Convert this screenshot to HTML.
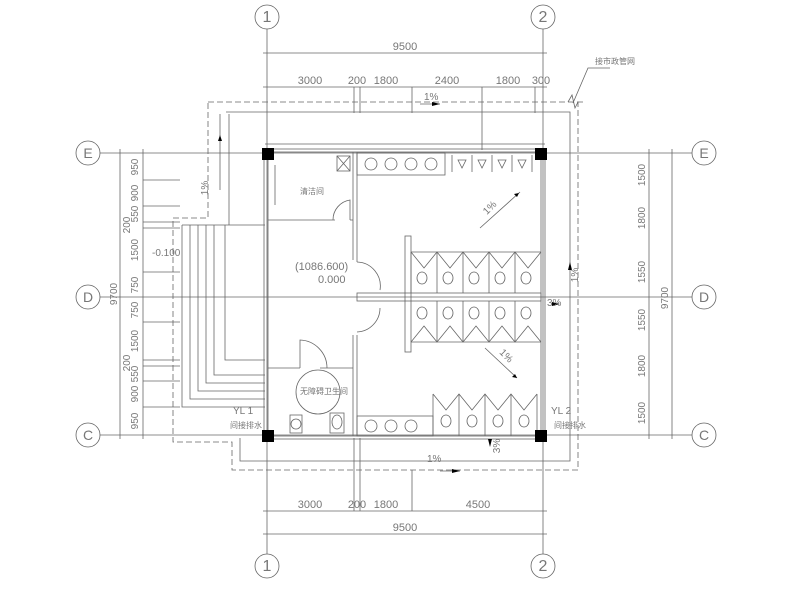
<!DOCTYPE html>
<html><head><meta charset="utf-8"><style>
body{margin:0;background:#fff}
svg{display:block}
text{font-family:"Liberation Sans","Noto Sans CJK SC",sans-serif;fill:#777}
</style></head><body>
<svg width="800" height="600" viewBox="0 0 800 600" xmlns="http://www.w3.org/2000/svg">
<g stroke="#666" stroke-width="0.8" fill="none">
<line x1="267" y1="29" x2="267" y2="554"/>
<line x1="543" y1="29" x2="543" y2="554"/>
<line x1="100" y1="153" x2="692" y2="153"/>
<line x1="100" y1="297" x2="692" y2="297"/>
<line x1="100" y1="435" x2="692" y2="435"/>
<circle cx="267" cy="17" r="12"/><circle cx="543" cy="17" r="12"/>
<circle cx="267" cy="566" r="12"/><circle cx="543" cy="566" r="12"/>
<circle cx="88" cy="153" r="12"/><circle cx="88" cy="297" r="12"/><circle cx="88" cy="435" r="12"/>
<circle cx="704" cy="153" r="12"/><circle cx="704" cy="297" r="12"/><circle cx="704" cy="435" r="12"/>
<line x1="263" y1="53" x2="547" y2="53"/>
<line x1="263" y1="87" x2="547" y2="87"/>
<line x1="354" y1="87" x2="354" y2="113"/><line x1="360" y1="87" x2="360" y2="113"/>
<line x1="412" y1="87" x2="412" y2="113"/><line x1="482" y1="87" x2="482" y2="150"/>
<line x1="535" y1="87" x2="535" y2="113"/>
<line x1="263" y1="511" x2="547" y2="511"/>
<line x1="263" y1="534" x2="547" y2="534"/>
<line x1="354" y1="438" x2="354" y2="511"/><line x1="360" y1="438" x2="360" y2="511"/>
<line x1="412" y1="470" x2="412" y2="511"/>
<line x1="649" y1="149" x2="649" y2="439"/>
<line x1="672" y1="149" x2="672" y2="439"/>
<line x1="120" y1="149" x2="120" y2="439"/>
<line x1="143" y1="149" x2="143" y2="439"/>
<line x1="143" y1="180" x2="180" y2="180"/><line x1="143" y1="206" x2="180" y2="206"/>
<line x1="143" y1="222" x2="180" y2="222"/><line x1="143" y1="228" x2="180" y2="228"/>
<line x1="143" y1="272" x2="180" y2="272"/><line x1="143" y1="322" x2="180" y2="322"/>
<line x1="143" y1="360" x2="180" y2="360"/><line x1="143" y1="366" x2="180" y2="366"/>
<line x1="143" y1="381" x2="180" y2="381"/><line x1="143" y1="407" x2="180" y2="407"/>
<path d="M208 102 H578 V470 H232 V442 H173 V218 H208 Z" stroke-dasharray="6,3"/>
<path d="M226 112 H570 V461 H240 V438"/>
<path d="M229 114 V225"/>
<path d="M182 225 H265 M182 225 V407 H265"/>
<path d="M190 225 V399 H265"/>
<path d="M198 225 V391 H265"/>
<path d="M206 225 V383 H265"/>
<path d="M214 225 V375 H265"/>
<path d="M225 225 V360 H265"/>
<rect x="264" y="149" width="281" height="290"/>
<rect x="268" y="152" width="273" height="284"/>
<line x1="265" y1="144" x2="545" y2="144"/>
<path d="M268 220 H335 M350 220 H353"/>
<path d="M353 152 V260 M357 152 V262 M353 335 V436 M357 335 V436"/>
<path d="M268 368 H300 M320 368 H353"/>
<line x1="275" y1="165" x2="275" y2="205"/>
<path d="M333 220 A20 20 0 0 1 350 200 V220"/>
<path d="M357 262 A24 24 0 0 1 380 290"/>
<path d="M357 332 A24 24 0 0 0 380 308"/>
<path d="M300 368 V340 A28 28 0 0 1 327 368"/>
<circle cx="318" cy="392" r="22"/>
<rect x="405" y="236" width="6" height="116"/>
<rect x="357" y="293" width="184" height="8"/>
<g>
<path d="M411 252 H541 M411 293 V252 M437 252 V293 M463 252 V293 M489 252 V293 M515 252 V293"/>
<path d="M411 252 L424 268 L437 252 L450 268 L463 252 L476 268 L489 252 L502 268 L515 252 L528 268 L541 252"/>
<path d="M411 342 H541 M437 301 V342 M463 301 V342 M489 301 V342 M515 301 V342"/>
<path d="M411 342 L424 326 L437 342 L450 326 L463 342 L476 326 L489 342 L502 326 L515 342 L528 326 L541 342"/>
<ellipse cx="422" cy="278" rx="5" ry="6"/><ellipse cx="448" cy="278" rx="5" ry="6"/><ellipse cx="474" cy="278" rx="5" ry="6"/><ellipse cx="500" cy="278" rx="5" ry="6"/><ellipse cx="526" cy="278" rx="5" ry="6"/>
<ellipse cx="422" cy="313" rx="5" ry="6"/><ellipse cx="448" cy="313" rx="5" ry="6"/><ellipse cx="474" cy="313" rx="5" ry="6"/><ellipse cx="500" cy="313" rx="5" ry="6"/><ellipse cx="526" cy="313" rx="5" ry="6"/>
<path d="M433 436 V394 M459 436 V394 M485 436 V394 M511 436 V394 M537 436 V394 M433 394 L446 410 L459 394 L472 410 L485 394 L498 410 L511 394 L524 410 L537 394"/>
<ellipse cx="446" cy="421" rx="5" ry="6"/><ellipse cx="472" cy="421" rx="5" ry="6"/><ellipse cx="498" cy="421" rx="5" ry="6"/><ellipse cx="524" cy="421" rx="5" ry="6"/>
</g>
<rect x="357" y="153" width="88" height="22"/>
<circle cx="371" cy="164" r="6"/><circle cx="391" cy="164" r="6"/><circle cx="411" cy="164" r="6"/><circle cx="431" cy="164" r="6"/>
<rect x="337" y="156" width="13" height="15"/><path d="M337 156 L350 171 M350 156 L337 171"/>
<path d="M452 155 V172 M472 155 V172 M492 155 V172 M512 155 V172 M532 155 V172"/>
<path d="M458 160 L462 168 L466 160 Z M478 160 L482 168 L486 160 Z M498 160 L502 168 L506 160 Z M518 160 L522 168 L526 160 Z"/>
<rect x="357" y="416" width="76" height="20"/>
<circle cx="371" cy="426" r="6"/><circle cx="391" cy="426" r="6"/><circle cx="411" cy="426" r="6"/>
<rect x="290" y="415" width="12" height="18"/><circle cx="296" cy="424" r="5"/>
<rect x="330" y="413" width="14" height="20"/><ellipse cx="337" cy="422" rx="5" ry="7"/>
<line x1="480" y1="228" x2="520" y2="192"/>
<line x1="485" y1="348" x2="517" y2="378"/>
<line x1="220" y1="114" x2="220" y2="190"/>
<line x1="420" y1="104" x2="440" y2="104"/>
<line x1="440" y1="471" x2="460" y2="471"/>
<path d="M573 103 L588 68 H610"/>
<path d="M568 102 L572 95 L575 108 L578 102 H583"/>
</g>
<g fill="#000">
<rect x="262" y="148" width="12" height="12"/><rect x="535" y="148" width="12" height="12"/>
<rect x="262" y="430" width="12" height="12"/><rect x="535" y="430" width="12" height="12"/>
<path d="M440 104 l-8 -2 v4z M460 471 l-8 -2 v4z M570 262 l-2 8 h4z M560 304 l-8 -2 v4z M519 193 l-5 1 l3 3z M517 378 l-5 -1 l3 -3z M220 135 l-2 6 h4z M490 447 l-2 -8 h4z"/>
</g>
<g font-size="11">
<text x="267" y="22" text-anchor="middle" font-size="16">1</text>
<text x="543" y="22" text-anchor="middle" font-size="16">2</text>
<text x="267" y="571" text-anchor="middle" font-size="16">1</text>
<text x="543" y="571" text-anchor="middle" font-size="16">2</text>
<text x="88" y="158" text-anchor="middle" font-size="14">E</text>
<text x="88" y="302" text-anchor="middle" font-size="14">D</text>
<text x="88" y="440" text-anchor="middle" font-size="14">C</text>
<text x="704" y="158" text-anchor="middle" font-size="14">E</text>
<text x="704" y="302" text-anchor="middle" font-size="14">D</text>
<text x="704" y="440" text-anchor="middle" font-size="14">C</text>
<text x="405" y="50" text-anchor="middle">9500</text>
<text x="310" y="84" text-anchor="middle">3000</text>
<text x="357" y="84" text-anchor="middle">200</text>
<text x="386" y="84" text-anchor="middle">1800</text>
<text x="447" y="84" text-anchor="middle">2400</text>
<text x="508" y="84" text-anchor="middle">1800</text>
<text x="541" y="84" text-anchor="middle">300</text>
<text x="310" y="508" text-anchor="middle">3000</text>
<text x="357" y="508" text-anchor="middle">200</text>
<text x="386" y="508" text-anchor="middle">1800</text>
<text x="478" y="508" text-anchor="middle">4500</text>
<text x="405" y="531" text-anchor="middle">9500</text>
<text x="424" y="100" font-size="10">1%</text>
<text x="427" y="462" font-size="10">1%</text>
<text x="295" y="270" font-size="11">(1086.600)</text>
<text x="318" y="283" font-size="11">0.000</text>
<text x="152" y="256" font-size="10">-0.100</text>
<text x="300" y="194" font-size="8">清洁间</text>
<text x="300" y="394" font-size="8">无障碍卫生间</text>
<text x="233" y="414" font-size="10">YL 1</text>
<text x="230" y="428" font-size="8">间接排水</text>
<text x="551" y="414" font-size="10">YL 2</text>
<text x="554" y="428" font-size="8">间接排水</text>
<text x="595" y="64" font-size="8">接市政管网</text>
<text x="547" y="306" font-size="10">3%</text>
<g font-size="10">
<text transform="translate(138,167) rotate(-90)" text-anchor="middle">950</text>
<text transform="translate(138,193) rotate(-90)" text-anchor="middle">900</text>
<text transform="translate(138,214) rotate(-90)" text-anchor="middle">550</text>
<text transform="translate(130,225) rotate(-90)" text-anchor="middle">200</text>
<text transform="translate(138,250) rotate(-90)" text-anchor="middle">1500</text>
<text transform="translate(138,285) rotate(-90)" text-anchor="middle">750</text>
<text transform="translate(138,310) rotate(-90)" text-anchor="middle">750</text>
<text transform="translate(138,341) rotate(-90)" text-anchor="middle">1500</text>
<text transform="translate(130,363) rotate(-90)" text-anchor="middle">200</text>
<text transform="translate(138,374) rotate(-90)" text-anchor="middle">550</text>
<text transform="translate(138,394) rotate(-90)" text-anchor="middle">900</text>
<text transform="translate(138,421) rotate(-90)" text-anchor="middle">950</text>
<text transform="translate(117,294) rotate(-90)" text-anchor="middle">9700</text>
<text transform="translate(645,175) rotate(-90)" text-anchor="middle">1500</text>
<text transform="translate(645,218) rotate(-90)" text-anchor="middle">1800</text>
<text transform="translate(645,272) rotate(-90)" text-anchor="middle">1550</text>
<text transform="translate(645,320) rotate(-90)" text-anchor="middle">1550</text>
<text transform="translate(645,366) rotate(-90)" text-anchor="middle">1800</text>
<text transform="translate(645,413) rotate(-90)" text-anchor="middle">1500</text>
<text transform="translate(668,298) rotate(-90)" text-anchor="middle">9700</text>
<text transform="translate(578,275) rotate(-90)" text-anchor="middle">1%</text>
<text transform="translate(208,188) rotate(-90)" text-anchor="middle">1%</text>
<text transform="translate(500,446) rotate(-90)" text-anchor="middle">3%</text>
<text transform="translate(492,210) rotate(-45)" text-anchor="middle">1%</text>
<text transform="translate(504,358) rotate(45)" text-anchor="middle">1%</text>
</g>
</g>
</svg>
</body></html>
